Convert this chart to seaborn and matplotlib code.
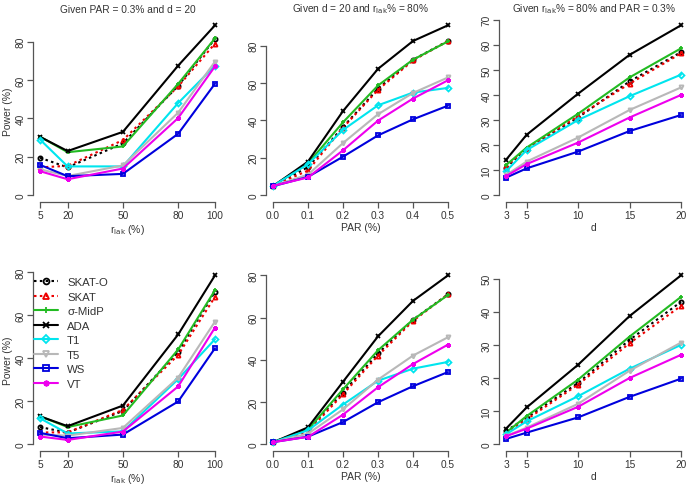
import matplotlib
matplotlib.use("Agg")
import matplotlib.pyplot as plt
import seaborn as sns
import pandas as pd

# x values of each column of panels
rlak = [5, 20, 50, 80, 100]
par = [0.0, 0.1, 0.2, 0.3, 0.4, 0.5]
dval = [3, 5, 10, 15, 20]

methods = ["SKAT-O", "SKAT", "σ-MidP", "ADA", "T1", "T5", "WS", "VT"]

# power (%), one dict per panel
top_rlak = {
    "SKAT-O": [19.5, 14.5, 27, 57, 81.5],
    "SKAT": [14.5, 15.3, 28.7, 56.7, 79],
    "σ-MidP": [30.5, 22.4, 25.4, 58, 81.7],
    "ADA": [30.4, 23, 33, 67.5, 88.5],
    "T1": [29, 15, 15, 48, 67.5],
    "T5": [13.5, 10, 15.5, 43, 69.6],
    "WS": [15.8, 9.9, 11.1, 32, 58.1],
    "VT": [12.5, 8.3, 13.9, 40.2, 67.1],
}
top_par = {
    "SKAT-O": [5, 15, 36.5, 57, 72.5, 82.5],
    "SKAT": [5, 13.2, 36.1, 56.4, 72.1, 82.5],
    "σ-MidP": [5, 17, 39, 58.7, 72.5, 82.3],
    "ADA": [4.8, 18, 45, 67.6, 82.5, 90.9],
    "T1": [5, 16.6, 34.9, 48.1, 54.9, 57.4],
    "T5": [5, 11, 27.9, 43.3, 54.7, 63],
    "WS": [4.8, 9.8, 20.6, 32, 40.6, 47.9],
    "VT": [5, 9.5, 24, 39.9, 51.7, 61.5],
}
top_d = {
    "SKAT-O": [11, 18.5, 31, 45.4, 57.1],
    "SKAT": [11.5, 18.5, 31.5, 44.5, 56.6],
    "σ-MidP": [12, 19, 32.5, 47, 58.6],
    "ADA": [14.1, 24.1, 40.5, 56, 67.8],
    "T1": [9.5, 18, 30, 39.5, 48.1],
    "T5": [8, 13.4, 23, 34, 43],
    "WS": [7, 10.7, 17.4, 25.6, 32],
    "VT": [7.6, 12.4, 21, 31, 40],
}
bot_rlak = {
    "SKAT-O": [8, 5.4, 15.5, 43, 71],
    "SKAT": [5.5, 5.5, 16, 41.6, 68.6],
    "σ-MidP": [13, 8, 13.4, 44.1, 71.7],
    "ADA": [13, 8.4, 18, 51.1, 78.6],
    "T1": [12.1, 5, 6, 30.3, 48.9],
    "T5": [4.5, 4, 7.6, 31, 57.1],
    "WS": [5.3, 2.8, 4.5, 19.9, 44.7],
    "VT": [3.6, 2, 5.9, 26.9, 54.3],
}
bot_par = {
    "SKAT-O": [1, 7, 24.5, 43, 59, 71],
    "SKAT": [1, 6, 23.7, 42, 58.4, 71],
    "σ-MidP": [1, 7, 26, 44.5, 59, 70.7],
    "ADA": [0.9, 8, 29.6, 51.1, 67.9, 80],
    "T1": [1, 6.6, 18.8, 30.1, 35.8, 39],
    "T5": [1, 5, 16.5, 30.6, 42, 50.7],
    "WS": [1, 3.6, 10.5, 19.9, 27.5, 34.2],
    "VT": [1, 3.5, 14, 27, 38, 47.2],
}
bot_d = {
    "SKAT-O": [4, 8, 18.5, 31.5, 43],
    "SKAT": [3.5, 7.5, 18, 30.5, 41.8],
    "σ-MidP": [3.5, 8.5, 19.5, 32.5, 44.5],
    "ADA": [4.7, 11.1, 24, 38.7, 51],
    "T1": [3, 6.9, 14.5, 22.8, 30],
    "T5": [2.5, 5, 12.2, 22.2, 30.7],
    "WS": [1.6, 3.5, 8.1, 14.3, 19.8],
    "VT": [2.4, 4.7, 11.3, 20, 27],
}

titles = ["Given PAR = 0.3% and d = 20",
          "Given d = 20 and r$_{\\rm lak}$% = 80%",
          "Given r$_{\\rm lak}$% = 80% and PAR = 0.3%"]
xlabels = ["r$_{\\rm lak}$ (%)", "PAR (%)", "d"]

colors = {"SKAT-O": "black", "SKAT": "#ee0000", "σ-MidP": "#22bb22", "ADA": "black",
          "T1": "#00e5ee", "T5": "#b8b8b8", "WS": "#0000dd", "VT": "#ee00ee"}
marks = {"SKAT-O": "o", "SKAT": "^", "σ-MidP": "+", "ADA": "x",
         "T1": "D", "T5": "v", "WS": "s", "VT": (8, 2, 0)}
styles = {"SKAT-O": (0, (1.2, 1.6)), "SKAT": (0, (1.2, 1.6)), "σ-MidP": "-", "ADA": "-",
          "T1": "-", "T5": "-", "WS": "-", "VT": "-"}

sns.set_theme(style="ticks")
plt.rcParams["font.family"] = ["Liberation Sans", "DejaVu Sans"]
axcol = "#555555"
txtcol = "#333333"

fig = plt.figure(figsize=(6.89, 4.85), dpi=100)

lefts = [33, 266, 499]
width = 189
rows = [(19.5, 203), (269.6, 452)]

panels = [[(rlak, top_rlak, 0, [0, 20, 40, 60, 80]), (par, top_par, 1, [0, 20, 40, 60, 80]),
           (dval, top_d, 2, [0, 10, 20, 30, 40, 50, 60, 70])],
          [(rlak, bot_rlak, 0, [0, 20, 40, 60, 80]), (par, bot_par, 1, [0, 20, 40, 60, 80]),
           (dval, bot_d, 2, [0, 10, 20, 30, 40, 50])]]

for r, (ytop, ybot) in enumerate(rows):
    for c in range(3):
        xs, data, col, yticks = panels[r][c]
        ax = fig.add_axes([lefts[c] / 689, 1 - ybot / 485, width / 689, (ybot - ytop) / 485])
        for m in methods:
            df = pd.DataFrame({"x": xs, "y": data[m]})
            sns.lineplot(data=df, x="x", y="y", ax=ax, color=colors[m], marker=marks[m],
                         linestyle=styles[m], lw=1.5, ms=3, mfc="none", mec=colors[m],
                         mew=1.3, label=m, legend=False)
        ymax = max(max(v) for v in data.values())
        xr = xs[-1] - xs[0]
        ax.set_xlim(xs[0] - 0.04 * xr, xs[-1] + 0.04 * xr)
        ax.set_ylim(-0.04 * ymax, 1.04 * ymax)
        ax.set_xticks(xs)
        if col == 1:
            ax.set_xticklabels([f"{v:.1f}" for v in xs])
        else:
            ax.set_xticklabels([str(v) for v in xs])
        ax.set_yticks(yticks)
        ax.set_yticklabels([str(v) for v in yticks], rotation=90, va="center")
        for s in ["top", "right"]:
            ax.spines[s].set_visible(False)
        ax.spines["left"].set_bounds(yticks[0], yticks[-1])
        ax.spines["bottom"].set_bounds(xs[0], xs[-1])
        for s in ["left", "bottom"]:
            ax.spines[s].set_color(axcol)
            ax.spines[s].set_linewidth(0.9)
        ax.tick_params(length=4, width=0.9, color=axcol, labelcolor=txtcol,
                       labelsize=7.3, pad=1.5)
        ax.set_xlabel(xlabels[col], fontsize=7.5, color=txtcol, labelpad=2)
        if col == 0:
            ax.set_ylabel("Power (%)", fontsize=7.5, color=txtcol, labelpad=2)
        else:
            ax.set_ylabel("")
        if r == 0:
            ax.set_title(titles[col], fontsize=7.3, color=txtcol, pad=5)
        if r == 1 and col == 0:
            ax.legend(loc="upper left", bbox_to_anchor=(0.0, 0.96), frameon=False,
                      fontsize=8.2, handlelength=2.1, handletextpad=0.8,
                      labelspacing=0.4, borderaxespad=0, borderpad=0.1,
                      markerscale=1.4, labelcolor=txtcol)

fig.savefig("out.png", dpi=100)
